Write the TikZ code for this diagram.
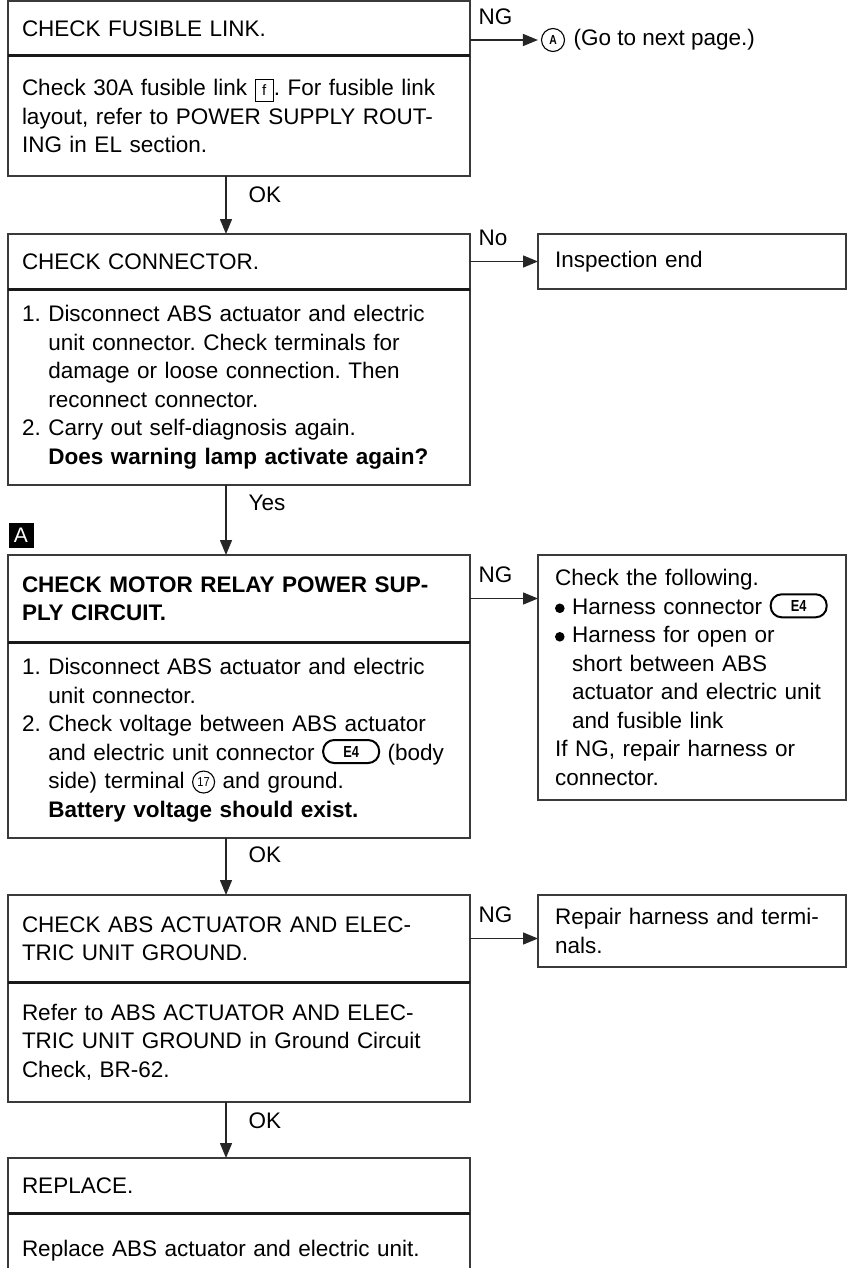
\documentclass[tikz,border=0pt]{standalone}
\usepackage{fontspec}
\setmainfont{Liberation Sans}
\usetikzlibrary{arrows.meta,positioning,calc}
\definecolor{framegray}{HTML}{3A3A3A}

% inline symbols of the service manual
\newcommand{\conn}[1]{\tikz[baseline={([yshift=-3pt]c.base)}]\node[draw, line width=2pt, rounded corners=11pt, minimum width=56pt, minimum height=23pt, inner sep=0pt, font=\fontsize{16}{16}\selectfont\bfseries] (c) {\scalebox{0.8}[1]{#1}};}
\newcommand{\fuse}[1]{\tikz[baseline=(f.base)]\node[draw, line width=1.3pt, minimum width=18pt, minimum height=22pt, inner sep=0pt, font=\fontsize{15}{15}\selectfont] (f) {#1};}
\newcommand{\term}[1]{\tikz[baseline={([yshift=-2pt]t.base)}]\node[draw, circle, line width=1.1pt, minimum size=22pt, inner sep=0pt, font=\fontsize{13}{13}\selectfont] (t) {\scalebox{0.85}[1]{#1}};}
\newcommand{\dotmark}{\tikz[baseline=-6pt]\fill (0,0) circle (4.8pt);}
\newcommand{\numgap}{\phantom{1.\ }}
\newcommand{\bulgap}{\phantom{\dotmark\ }}

\begin{document}
\frenchspacing
\begin{tikzpicture}[
  x=1pt, y=-1pt,
  font=\fontsize{22.5}{28.5}\selectfont,
  ttlbox/.style={draw=framegray, line width=1.4pt, outer sep=0pt, inner xsep=14pt, inner ysep=0pt,
                 text width=434pt, align=left, anchor=north west},
  endbox/.style={draw=framegray, line width=1.4pt, outer sep=0pt, inner xsep=17pt, inner ysep=0pt,
                 text width=274pt, align=left, anchor=north west},
  lbl/.style={inner sep=2pt},
  ng/.style={anchor=south west, inner sep=0pt, xshift=8pt, yshift=15pt},
  >={Triangle[length=15pt, width=12pt]},
  flow/.style={->, line width=1.4pt, draw=black!85},
  split/.style={line width=3pt, draw=black!90},
]
\path[use as bounding box, clip] (0,0) rectangle (850,1268);
\coordinate (ax) at (226,0);
% ----- fusible link -----
\node[ttlbox, minimum height=55pt] (t1) at (8,1) {CHECK FUSIBLE LINK.};
\node[ttlbox, minimum height=120pt, below=0pt of t1] (b1) {Check 30A fusible link \fuse{f}. For fusible link\\layout, refer to POWER SUPPLY ROUT-\\ING in EL section.};
\draw[split] (t1.south west) -- (t1.south east);
\node[circle, draw, line width=1.1pt, minimum size=23pt, inner sep=0pt, font=\fontsize{13}{13}\selectfont\bfseries] (goA) at (553,40) {\scalebox{0.8}[1]{A}};
\node[right=5pt of goA] (nxt) {(Go to next page.)};
\draw[flow, shorten >=3pt] (t1.east |- goA) -- node[ng, pos=0]{NG} (goA.west);
% ----- connector -----
\node[ttlbox, minimum height=55pt] (t2) at (8,234) {CHECK CONNECTOR.};
\node[ttlbox, minimum height=196pt, below=0pt of t2] (b2) {1. Disconnect ABS actuator and electric\\\numgap unit connector. Check terminals for\\\numgap damage or loose connection. Then\\\numgap reconnect connector.\\2. Carry out self-diagnosis again.\\\numgap\textbf{Does warning lamp activate again?}};
\draw[split] (t2.south west) -- (t2.south east);
\node[endbox, minimum height=55pt] (ie) at (538,234) {Inspection end};
\draw[flow] (t2.east) -- node[ng, pos=0]{No} (t2.east -| ie.west);
\draw[flow] (b1.south -| ax) -- node[lbl, pos=0.33, right=20pt]{OK} (t2.north -| ax);
% ----- motor relay power supply -----
\node[fill=black, text=white, minimum size=25pt, inner sep=0pt, font=\fontsize{21}{21}\selectfont] (mA) at (21,535) {A};
\node[ttlbox, minimum height=87pt, font=\fontsize{22.5}{28.5}\selectfont\bfseries] (t3) at (8,555) {CHECK MOTOR RELAY POWER SUP-\\PLY CIRCUIT.};
\node[ttlbox, minimum height=196pt, below=0pt of t3] (b3) {1. Disconnect ABS actuator and electric\\\numgap unit connector.\\2. Check voltage between ABS actuator\\\numgap and electric unit connector \conn{E4} (body\\\numgap side) terminal \term{17} and ground.\\\numgap\textbf{Battery voltage should exist.}};
\draw[split] (t3.south west) -- (t3.south east);
\node[endbox, minimum height=245pt] (chk) at (538,555) {Check the following.\\\dotmark\ Harness connector \conn{E4}\\\dotmark\ Harness for open or\\\bulgap short between ABS\\\bulgap actuator and electric unit\\\bulgap and fusible link\\If NG, repair harness or\\connector.};
\draw[flow] (t3.east) -- node[ng, pos=0]{NG} (t3.east -| chk.west);
\draw[flow] (b2.south -| ax) -- node[lbl, pos=0.26, right=20pt]{Yes} (t3.north -| ax);
% ----- actuator ground -----
\node[ttlbox, minimum height=87pt] (t4) at (8,895) {CHECK ABS ACTUATOR AND ELEC-\\TRIC UNIT GROUND.};
\node[ttlbox, minimum height=120pt, below=0pt of t4] (b4) {Refer to ABS ACTUATOR AND ELEC-\\TRIC UNIT GROUND in Ground Circuit\\Check, BR-62.};
\draw[split] (t4.south west) -- (t4.south east);
\node[endbox, minimum height=72pt] (rep) at (538,895) {Repair harness and termi-\\nals.};
\draw[flow] (t4.east) -- node[ng, pos=0]{NG} (t4.east -| rep.west);
\draw[flow] (b3.south -| ax) -- node[lbl, pos=0.3, right=20pt]{OK} (t4.north -| ax);
% ----- replace -----
\node[ttlbox, minimum height=55pt] (t5) at (8,1158) {REPLACE.};
\node[ttlbox, minimum height=75pt, below=0pt of t5] (b5) {Replace ABS actuator and electric unit.};
\draw[split] (t5.south west) -- (t5.south east);
\draw[flow] (b4.south -| ax) -- node[lbl, pos=0.33, right=20pt]{OK} (t5.north -| ax);
\end{tikzpicture}
\end{document}
